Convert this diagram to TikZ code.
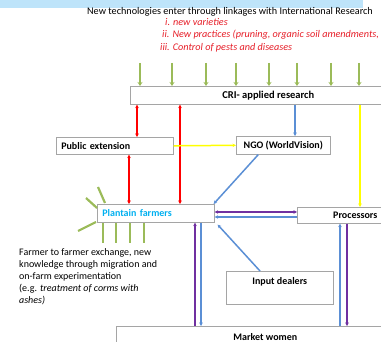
\documentclass[tikz,border=0pt]{standalone}
\usepackage{fontspec}
\setmainfont{Carlito}
\usetikzlibrary{arrows.meta,positioning}
\definecolor{bandblue}{RGB}{190,228,250}
\definecolor{leafgreen}{RGB}{155,187,89}
\definecolor{linkblue}{RGB}{91,143,213}
\definecolor{linkpurple}{RGB}{112,48,160}
\definecolor{linkyellow}{RGB}{255,255,0}
\definecolor{farmerblue}{RGB}{0,176,240}
\definecolor{boxgray}{RGB}{165,165,165}
\definecolor{notered}{RGB}{230,30,40}

\begin{document}
\begin{tikzpicture}[x=1pt,y=-1pt,>={Stealth[length=3.5pt,width=3.5pt]},
  actor/.style={draw=boxgray,line width=0.6pt,fill=white,anchor=north west,inner sep=0pt,font=\fontsize{10}{12}\selectfont\bfseries},
  leftactor/.style={actor,align=left,inner xsep=5pt},
  link/.style={line width=1.5pt},
  leaf/.style={draw=leafgreen,line width=2.2pt},
  note/.style={inner sep=0pt,font=\fontsize{10.2}{12}\selectfont},
  technote/.style={note,anchor=base west,text=notered,font=\fontsize{10.2}{12}\selectfont\itshape}]
\useasboundingbox (0,0) rectangle (381,342);
\clip (0,0) rectangle (381,342);
\fill[bandblue] (0,0) rectangle (363,8);

% texts
\node[note,anchor=base] (intro) at (230,15) {New technologies enter through linkages with International Research};
\node[technote] (tech1) at (165,26) {i. new varieties};
\node[technote] (tech2) at (162,38) {ii. New practices (pruning, organic soil amendments,};
\node[technote] (tech3) at (160,51) {iii. Control of pests and diseases};
\node[note,anchor=north west,align=left,font=\fontsize{10}{12}\selectfont] (f2f) at (19,248)
  {Farmer to farmer exchange, new\\knowledge through migration and\\on-farm experimentation\\(e.g. \textit{treatment of corms with}\\\textit{ashes)}};

% actors
\node[actor,minimum width=276,minimum height=18,font=\fontsize{10.5}{12}\selectfont\bfseries] (cri) at (130,86) {CRI- applied research};
\node[leftactor,text width=107pt,minimum height=17] (pubext) at (56,137) {Public extension};
\node[actor,minimum width=94,minimum height=18] (ngo) at (236,136) {NGO (WorldVision)};
\node[leftactor,text width=107pt,minimum height=18,text=farmerblue] (farmers) at (97,204) {Plantain farmers};
\node[actor,minimum width=116,minimum height=16] (proc) at (297,207) {Processors};
\node[actor,minimum width=107,inner ysep=4.5pt,text height=8.5pt,text depth=15.5pt] (input) at (226,271) {Input dealers};
\node[actor,minimum width=298,minimum height=22] (market) at (116,326) {Market women};

% international research inputs
\foreach \gx in {140,172,206,236,269,297,331,359}{
  \coordinate (src\gx) at (\gx,63);
  \draw[leaf,->,>={Stealth[length=4pt,width=5pt]}] (src\gx) -- (src\gx |- cri.north);
}
% farmer to farmer knowledge
\draw[leaf] (86,198) -- (97,208);
\draw[leaf] (98,187) -- (105,203);
\draw[leaf] (78,231) -- (96,222);
\foreach \gx in {103,116,130,144}
  \draw[leaf] (\gx,243) -- (\gx,243 |- farmers.south);

% links
\draw[link,red,<->] (137,0 |- cri.south) -- (137,0 |- pubext.north);
\draw[link,red,<->] (180,0 |- cri.south) -- (180,0 |- farmers.north);
\draw[link,red,<->] (129,0 |- pubext.south) -- (129,0 |- farmers.north);
\draw[link,linkyellow,->] (pubext.east) -- (ngo.west);
\draw[link,linkyellow,->] (360,0 |- cri.south) -- (360,0 |- proc.north);
\draw[link,linkblue,->] (295,0 |- cri.south) -- (295,0 |- ngo.north);
\draw[link,linkblue,->] ([xshift=-25pt]ngo.south) -- ([xshift=-1pt]farmers.north east);
\draw[link,linkpurple,<->] (farmers.east |- 0,212) -- (proc.west |- 0,212);
\draw[link,linkblue,->] (proc.west |- 0,217) -- (farmers.east |- 0,217);
\draw[link,linkblue,->] ([xshift=34pt]input.north west) -- ([shift={(3,2)}]farmers.south east);
\draw[link,linkpurple,->] (195,0 |- market.north) -- (195,0 |- farmers.south);
\draw[link,linkblue,->] (201,0 |- farmers.south) -- (201,0 |- market.north);
\draw[link,linkblue,->] (340,0 |- market.north) -- (340,0 |- proc.south);
\draw[link,linkpurple,->] (347,0 |- proc.south) -- (347,0 |- market.north);
\end{tikzpicture}
\end{document}
